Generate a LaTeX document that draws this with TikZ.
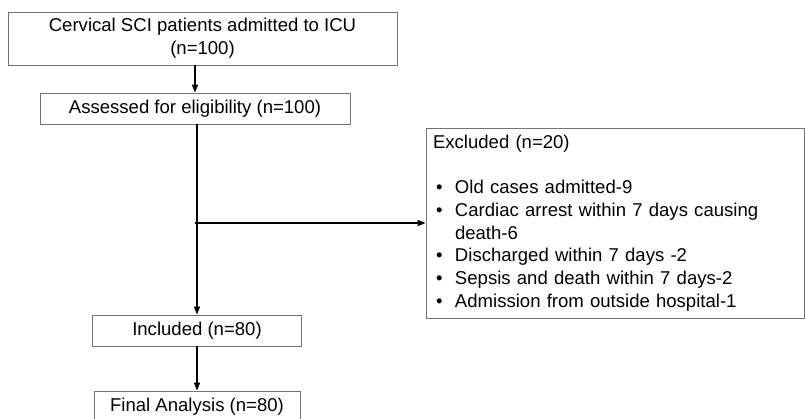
\documentclass[tikz,border=0pt]{standalone}
\usepackage{fontspec}
\setmainfont{Liberation Sans}
\usetikzlibrary{arrows.meta}

\newcommand{\exitem}[1]{\makebox[0.55cm][l]{\hspace{0.08cm}\textbullet}#1}

\begin{document}
\begin{tikzpicture}[
    box/.style={rectangle, draw=gray!90!black, line width=0.6pt, fill=white, minimum height=0.775cm, inner sep=0pt, align=center, font=\fontsize{13.2}{16.1}\selectfont},
    exbox/.style={rectangle, draw=gray!90!black, line width=0.6pt, fill=white, minimum width=9.45cm, minimum height=4.75cm, inner xsep=0.175cm, text width=9.1cm, align=left, font=\fontsize{13.2}{16.1}\selectfont},
    arrow/.style={-{Triangle[length=0.2cm, width=0.15cm]}, line width=1.1pt}
]

% Page frame
\useasboundingbox[fill=white] (0,0) rectangle (20.125,10.45);

% Main flow
\node[box, minimum width=9.725cm, minimum height=1.325cm] (admitted) at (5.0625, 9.4875) {Cervical SCI patients admitted to ICU\\(n=100)};
\node[box, minimum width=7.75cm] (assessed) at (4.875, 7.7375) {Assessed for eligibility (n=100)};
\node[box, minimum width=5.225cm] (included) at (4.925, 2.1875) {Included (n=80)};
\node[box, minimum width=5.15cm] (final) at (4.925, 0.2875) {Final Analysis (n=80)};

% Exclusions
\node[exbox] (excluded) at (15.375, 4.875) {Excluded (n=20)\\
    \mbox{}\\
    \exitem{Old cases admitted-9}\\
    \exitem{Cardiac arrest within 7 days causing}\\
    \hspace*{0.55cm}death-6\\
    \exitem{Discharged within 7 days -2}\\
    \exitem{Sepsis and death within 7 days-2}\\
    \exitem{Admission from outside hospital-1}};

% Arrows
\draw[arrow] (admitted.south -| assessed.north) -- (assessed.north);
\draw[arrow] (assessed.south -| included.north) -- (included.north);
\draw[arrow] (assessed.south |- excluded.west) -- (excluded.west);
\draw[arrow] (included.south) -- (final.north);

\end{tikzpicture}
\end{document}
